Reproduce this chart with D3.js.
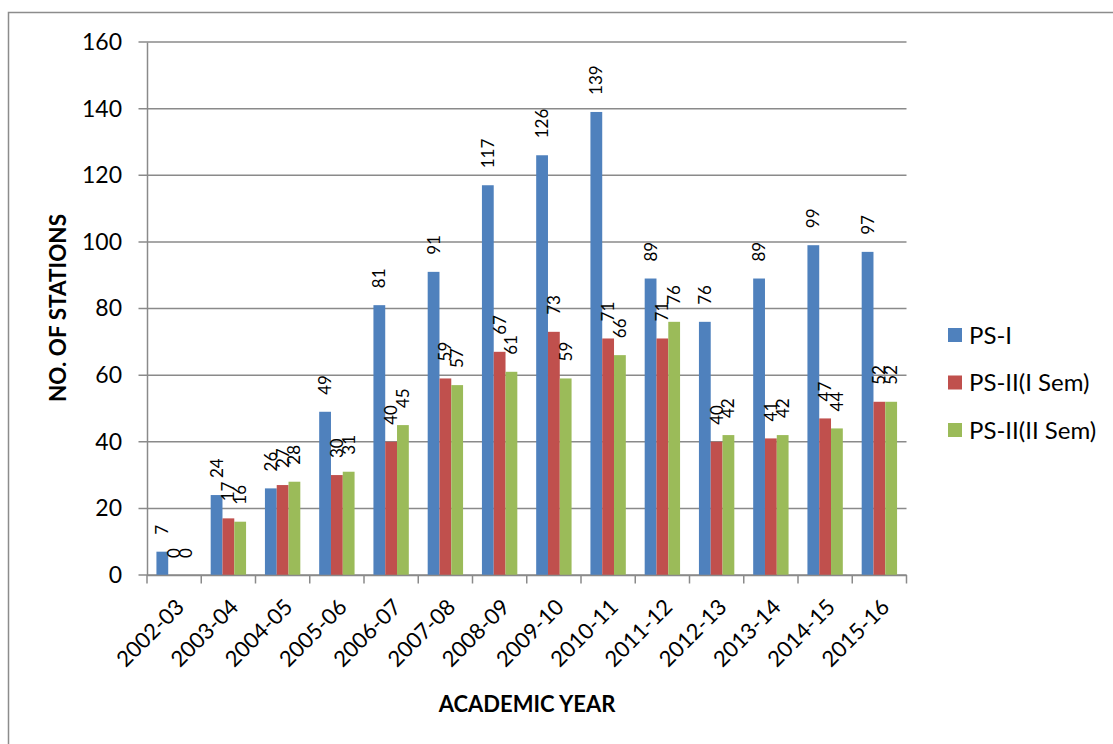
<!DOCTYPE html>
<html><head><meta charset="utf-8">
<script src="https://cdn.jsdelivr.net/npm/d3@7"></script>
<style>
html,body{margin:0;padding:0;background:#fff;}
svg{display:block;font-family:Lato, "Open Sans", sans-serif;}
</style></head>
<body>
<svg id="chart" width="1113" height="744"></svg>
<script>
const categories = ["2002-03","2003-04","2004-05","2005-06","2006-07","2007-08","2008-09","2009-10","2010-11","2011-12","2012-13","2013-14","2014-15","2015-16"];
const seriesNames = ["PS-I","PS-II(I Sem)","PS-II(II Sem)"];
const psI    = [7,24,26,49,81,91,117,126,139,89,76,89,99,97];
const psII1  = [0,17,27,30,40,59,67,73,71,71,40,41,47,52];
const psII2  = [0,16,28,31,45,57,61,59,66,76,42,42,44,52];
const yTicks = [0,20,40,60,80,100,120,140,160];
const colors = ["#4F81BD","#C0504D","#9BBB59"];
const seriesValues = [psI, psII1, psII2];

const svg = d3.select("#chart");
const pLeft = 147, pRight = 906.5, pTop = 42, pBottom = 575;

// outer border (cropped on right/bottom)
svg.append("rect").attr("x",8.5).attr("y",12.5).attr("width",1200).attr("height",800)
  .attr("fill","none").attr("stroke","#8c8c8c").attr("stroke-width",1.5);

const x0 = d3.scaleBand().domain(categories).range([pLeft,pRight]).paddingInner(0).paddingOuter(0);
const x1 = d3.scaleBand().domain(seriesNames).range([0,x0.bandwidth()]).paddingInner(0).paddingOuter(0.8);
const y = d3.scaleLinear().domain([0,160]).range([pBottom,pTop]);

// gridlines
svg.append("g").selectAll("line").data(yTicks).join("line")
  .attr("x1",pLeft-8.5).attr("x2",pRight).attr("y1",d=>y(d)).attr("y2",d=>y(d))
  .attr("stroke","#8a8a8a").attr("stroke-width",1.5);

// y axis
const yAxis = svg.append("g").attr("transform",`translate(${pLeft},0)`)
  .call(d3.axisLeft(y).tickValues(yTicks).tickSize(0).tickPadding(25));
yAxis.select(".domain").attr("stroke","#8a8a8a").attr("stroke-width",1.5);
yAxis.selectAll("text").attr("font-size",23).attr("fill","#000").attr("font-family","Lato");

// bars
const g = svg.append("g");
seriesValues.forEach((vals,si)=>{
  g.append("g").selectAll("rect").data(vals).join("rect")
    .attr("x",(d,i)=>x0(categories[i])+x1(seriesNames[si]))
    .attr("width",x1.bandwidth())
    .attr("y",d=>y(d)).attr("height",d=>y(0)-y(d))
    .attr("fill",colors[si]);
});

// data labels
seriesValues.forEach((vals,si)=>{
  g.append("g").selectAll("text").data(vals).join("text")
    .attr("transform",(d,i)=>{
      const cx = x0(categories[i])+x1(seriesNames[si])+x1.bandwidth()/2;
      return `translate(${cx},${y(d)-17}) rotate(-90)`;
    })
    .attr("dy","0.35em")
    .attr("text-anchor","start")
    .attr("font-size",17).attr("fill","#000")
    .text(d=>d);
});

// x axis
const xAxis = svg.append("g").attr("transform",`translate(0,${pBottom})`)
  .call(d3.axisBottom(x0).tickSize(0).tickFormat(""));
xAxis.select(".domain").attr("stroke","#8a8a8a").attr("stroke-width",1.5);
// category boundary ticks
const bounds = categories.map(c=>x0(c)).concat([pRight]);
svg.append("g").selectAll("line").data(bounds).join("line")
  .attr("x1",d=>d).attr("x2",d=>d).attr("y1",pBottom).attr("y2",pBottom+8.5)
  .attr("stroke","#8a8a8a").attr("stroke-width",1.5);
svg.append("g").selectAll("text").data(categories).join("text")
  .attr("transform",d=>`translate(${x0(d)+x0.bandwidth()/2+6},${pBottom+28}) rotate(-45)`)
  .attr("text-anchor","end").attr("dy","0.35em")
  .attr("font-size",22).attr("fill","#000")
  .text(d=>d);

// axis titles
svg.append("text").attr("x",527).attr("y",712).attr("text-anchor","middle")
  .attr("font-size",22).attr("font-weight","bold").attr("fill","#000").text("ACADEMIC YEAR");
svg.append("text").attr("transform","translate(66,308) rotate(-90)").attr("text-anchor","middle")
  .attr("font-size",22.5).attr("font-weight","bold").attr("fill","#000").text("NO. OF STATIONS");

// legend
const leg = svg.append("g").selectAll("g").data(seriesNames).join("g")
  .attr("transform",(d,i)=>`translate(948,${335+i*47.5})`);
leg.append("rect").attr("x",0).attr("y",-7).attr("width",14).attr("height",14).attr("fill",(d,i)=>colors[i]);
leg.append("text").attr("x",21).attr("dy","0.36em").attr("font-size",24).attr("fill","#000").text(d=>d);
</script>
</body></html>
